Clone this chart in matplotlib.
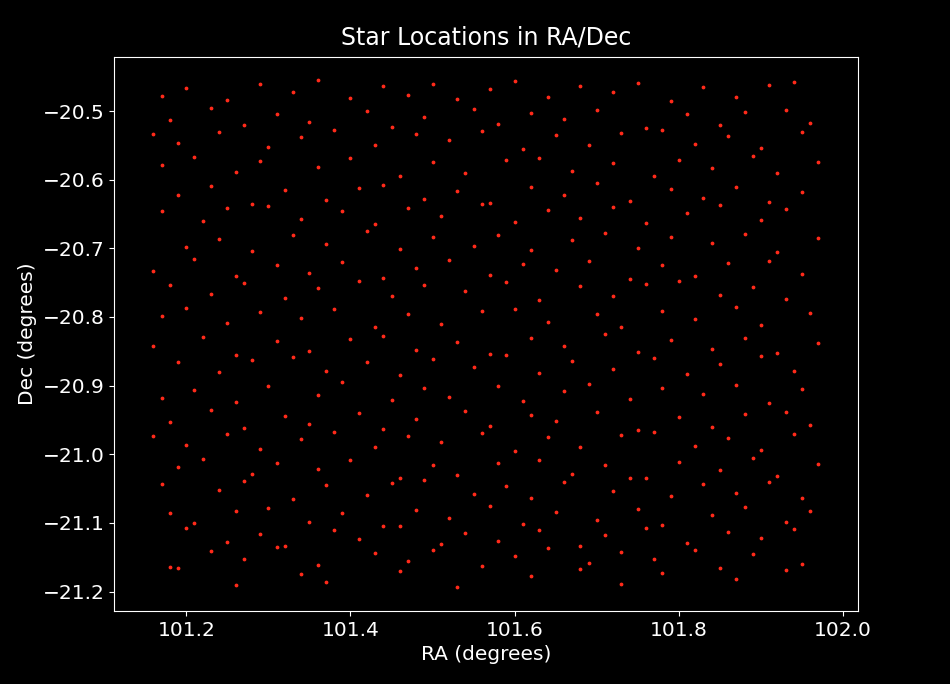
import matplotlib
matplotlib.use("Agg")
import matplotlib.pyplot as plt

# Approximate star positions (RA, Dec in degrees)
rows = [
 (-20.47, [101.17,101.20,101.25,101.29,101.33,101.36,101.40,101.44,101.47,101.50,101.53,101.57,101.60,101.64,101.68,101.72,101.75,101.79,101.83,101.87,101.91,101.94]),
 (-20.51, [101.18,101.23,101.27,101.31,101.35,101.42,101.45,101.49,101.55,101.58,101.62,101.66,101.70,101.76,101.81,101.85,101.88,101.93,101.96]),
 (-20.54, [101.16,101.19,101.24,101.30,101.34,101.38,101.43,101.48,101.52,101.56,101.61,101.65,101.69,101.73,101.78,101.82,101.86,101.90,101.95]),
 (-20.58, [101.17,101.21,101.26,101.29,101.36,101.40,101.46,101.50,101.54,101.59,101.63,101.67,101.72,101.77,101.80,101.84,101.89,101.92,101.97]),
 (-20.62, [101.19,101.23,101.28,101.32,101.37,101.41,101.44,101.49,101.53,101.57,101.62,101.66,101.70,101.74,101.79,101.83,101.87,101.91,101.95]),
 (-20.65, [101.17,101.22,101.25,101.30,101.34,101.39,101.43,101.47,101.51,101.56,101.60,101.64,101.68,101.72,101.76,101.81,101.85,101.90,101.93]),
 (-20.69, [101.20,101.24,101.28,101.33,101.37,101.42,101.46,101.50,101.55,101.58,101.62,101.67,101.71,101.75,101.79,101.84,101.88,101.92,101.97]),
 (-20.73, [101.16,101.21,101.26,101.31,101.35,101.39,101.44,101.48,101.52,101.57,101.61,101.65,101.69,101.74,101.78,101.82,101.86,101.91,101.95]),
 (-20.76, [101.18,101.23,101.27,101.32,101.36,101.41,101.45,101.49,101.54,101.59,101.63,101.68,101.72,101.76,101.80,101.85,101.89,101.93]),
 (-20.80, [101.17,101.20,101.25,101.29,101.34,101.38,101.43,101.47,101.51,101.56,101.60,101.64,101.70,101.73,101.78,101.82,101.87,101.90,101.96]),
 (-20.84, [101.16,101.22,101.26,101.31,101.35,101.40,101.44,101.48,101.53,101.57,101.62,101.66,101.71,101.75,101.79,101.84,101.88,101.92,101.97]),
 (-20.87, [101.19,101.24,101.28,101.33,101.37,101.42,101.46,101.50,101.55,101.59,101.63,101.67,101.72,101.77,101.81,101.85,101.90,101.94]),
 (-20.91, [101.17,101.21,101.26,101.30,101.36,101.39,101.45,101.49,101.52,101.58,101.61,101.66,101.69,101.74,101.78,101.83,101.87,101.91,101.95]),
 (-20.95, [101.18,101.23,101.27,101.32,101.35,101.41,101.44,101.48,101.54,101.57,101.62,101.65,101.70,101.75,101.80,101.84,101.88,101.93,101.96]),
 (-20.98, [101.16,101.20,101.25,101.29,101.34,101.38,101.43,101.47,101.51,101.56,101.60,101.64,101.68,101.73,101.77,101.82,101.86,101.90,101.94]),
 (-21.02, [101.19,101.22,101.28,101.31,101.36,101.40,101.46,101.50,101.53,101.58,101.63,101.67,101.71,101.76,101.80,101.85,101.89,101.92,101.97]),
 (-21.05, [101.17,101.24,101.27,101.33,101.37,101.42,101.45,101.49,101.55,101.59,101.62,101.66,101.72,101.74,101.79,101.83,101.87,101.91,101.95]),
 (-21.09, [101.18,101.21,101.26,101.30,101.35,101.39,101.44,101.48,101.52,101.57,101.61,101.65,101.70,101.75,101.78,101.84,101.88,101.93,101.96]),
 (-21.12, [101.20,101.25,101.29,101.32,101.38,101.41,101.46,101.51,101.54,101.58,101.63,101.68,101.71,101.76,101.81,101.86,101.90,101.94]),
 (-21.15, [101.18,101.23,101.27,101.31,101.36,101.43,101.47,101.50,101.56,101.60,101.64,101.69,101.73,101.77,101.82,101.85,101.89,101.95]),
 (-21.18, [101.19,101.26,101.34,101.37,101.46,101.53,101.62,101.68,101.73,101.78,101.87,101.93]),
]
# Small per-point Dec offsets (read as scatter around each row)
offsets = [0.012, -0.008, 0.004, -0.014, 0.009, -0.003, 0.015, -0.011, 0.006, -0.006, 0.010, -0.013, 0.002, 0.013, -0.009, 0.007, -0.002, 0.011, -0.015, 0.005, -0.010, 0.008]

ra, dec = [], []
for d, xs in rows:
    for i, x in enumerate(xs):
        ra.append(x)
        dec.append(d + offsets[(i + int(abs(d) * 100)) % len(offsets)])

plt.style.use("dark_background")
fig, ax = plt.subplots(figsize=(9.5, 6.84), dpi=100)
fig.subplots_adjust(left=0.12, right=0.903, top=0.917, bottom=0.107)
ax.scatter(ra, dec, s=3, color="#ff2a1a")
ax.set_xlim(101.112, 102.018)
ax.set_ylim(-21.228, -20.421)
ax.set_title("Star Locations in RA/Dec", fontsize=17, pad=9)
ax.set_xlabel("RA (degrees)", fontsize=14.5)
ax.set_ylabel("Dec (degrees)", fontsize=14.5)
ax.tick_params(labelsize=14.5)
fig.savefig("out.png")
